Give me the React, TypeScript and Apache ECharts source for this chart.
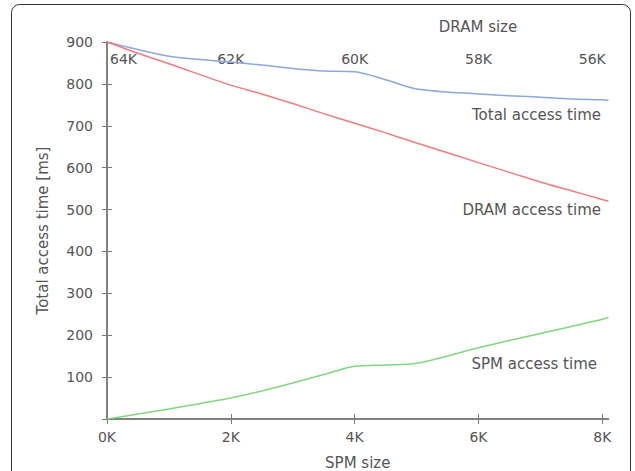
import React, { useEffect, useRef } from "react";
import * as echarts from "echarts";

// x values in K (SPM size)
const xK = [0, 0.5, 1, 2, 2.5, 3, 3.5, 4, 4.5, 5, 6, 7, 7.5, 8, 8.1];
const totalTime = [900, 882, 866, 852, 845, 837, 831, 829, 810, 788, 776, 768, 764, 762, 761];
const dramTime = [900, 873, 848, 797, 776, 753, 729, 706, 683, 659, 612, 566, 545, 524, 520];
const spmTime = [0, 12, 24, 50, 67, 86, 106, 126, 129, 133, 170, 204, 221, 238, 243];

const yTicks = [100, 200, 300, 400, 500, 600, 700, 800, 900];
const seriesNames = ["Total access time", "DRAM access time", "SPM access time"];
const DRAM_TOTAL_K = 64;

const FONT = "DejaVu Sans";
const TXT = "#555555";
const AX = "#7a7a7a";

function pairs(ys: number[]) {
  return xK.map((x, i) => [x, ys[i]]);
}

export default function App() {
  const ref = useRef<HTMLDivElement>(null);
  useEffect(() => {
    document.body.style.margin = "0";
    const chart = echarts.init(ref.current!, null, { renderer: "svg" });
    const axisLine = { show: true, lineStyle: { color: AX, width: 1.5 } };
    const tick = { show: true, inside: true, length: 5, lineStyle: { color: AX, width: 1 } };
    chart.setOption({
      animation: false,
      backgroundColor: "#ffffff",
      textStyle: { fontFamily: FONT },
      grid: { left: 107, right: 26.5, top: 42, bottom: 52, outerBoundsMode: "none", containLabel: false },
      xAxis: [
        {
          type: "value",
          position: "bottom",
          min: 0,
          max: 8.1,
          interval: 2,
          axisLine,
          axisTick: tick,
          splitLine: { show: false },
          axisLabel: {
            color: TXT,
            fontSize: 14,
            fontFamily: FONT,
            margin: 11,
            showMaxLabel: false,
            formatter: (v: number) => (Number.isInteger(v) ? v + "K" : ""),
          },
          name: "SPM size",
          nameLocation: "middle",
          nameGap: 36,
          nameTextStyle: { color: TXT, fontSize: 15, fontFamily: FONT },
        },
        {
          type: "value",
          position: "top",
          min: 0,
          max: 8.1,
          interval: 2,
          axisLine,
          axisTick: tick,
          splitLine: { show: false },
          axisLabel: {
            inside: true,
            color: TXT,
            fontSize: 14,
            fontFamily: FONT,
            margin: 10,
            showMaxLabel: false,
            alignMinLabel: "left",
            formatter: (v: number) => {
              if (!Number.isInteger(v)) return "";
              const t = DRAM_TOTAL_K - v + "K";
              if (v === 0) return "{a|" + t + "}";
              if (v === 8) return "{b|" + t + "}";
              return t;
            },
            rich: {
              a: { color: TXT, fontSize: 14, fontFamily: FONT, padding: [0, 0, 0, 3] },
              b: { color: TXT, fontSize: 14, fontFamily: FONT, padding: [0, 20, 0, 0] },
            },
          },
        },
      ],
      yAxis: [
        {
          type: "value",
          position: "left",
          min: 0,
          max: 900,
          interval: 100,
          axisLine,
          axisTick: tick,
          splitLine: { show: false },
          axisLabel: {
            color: TXT,
            fontSize: 14,
            fontFamily: FONT,
            margin: 14,
            formatter: (v: number) => (yTicks.includes(v) ? String(v) : ""),
          },
          name: "Total access time [ms]",
          nameLocation: "middle",
          nameGap: 57,
          nameTextStyle: { color: TXT, fontSize: 15, fontFamily: FONT },
        },
        {
          type: "value",
          position: "right",
          min: 0,
          max: 900,
          interval: 100,
          axisLine,
          axisTick: tick,
          splitLine: { show: false },
          axisLabel: { show: false },
        },
      ],
      series: [
        {
          name: seriesNames[0],
          type: "line",
          data: pairs(totalTime),
          smooth: 0.3,
          showSymbol: false,
          lineStyle: { color: "#8ca8e0", width: 1.5 },
          z: 3,
        },
        {
          name: seriesNames[1],
          type: "line",
          data: pairs(dramTime),
          smooth: 0.3,
          showSymbol: false,
          lineStyle: { color: "#f07c7c", width: 1.5 },
          z: 3,
        },
        {
          name: seriesNames[2],
          type: "line",
          data: pairs(spmTime),
          smooth: 0.3,
          showSymbol: false,
          lineStyle: { color: "#7fd87f", width: 1.5 },
          z: 3,
        },
      ],
      graphic: [
        {
          type: "rect",
          shape: { x: 11.5, y: 4.5, width: 619, height: 490, r: 8 },
          style: { fill: "none", stroke: "#333333", lineWidth: 1 },
          silent: true,
        },
        {
          type: "text",
          x: 478,
          y: 27,
          style: { text: "DRAM size", fill: TXT, font: `15px ${FONT}`, textAlign: "center", textVerticalAlign: "middle" },
        },
        {
          type: "text",
          x: 601,
          y: 115,
          style: { text: seriesNames[0], fill: TXT, font: `15px ${FONT}`, textAlign: "right", textVerticalAlign: "middle" },
        },
        {
          type: "text",
          x: 601,
          y: 210,
          style: { text: seriesNames[1], fill: TXT, font: `15px ${FONT}`, textAlign: "right", textVerticalAlign: "middle" },
        },
        {
          type: "text",
          x: 597,
          y: 364,
          style: { text: seriesNames[2], fill: TXT, font: `15px ${FONT}`, textAlign: "right", textVerticalAlign: "middle" },
        },
      ],
    });
    return () => chart.dispose();
  }, []);
  return <div ref={ref} style={{ width: 635, height: 471 }} />;
}
